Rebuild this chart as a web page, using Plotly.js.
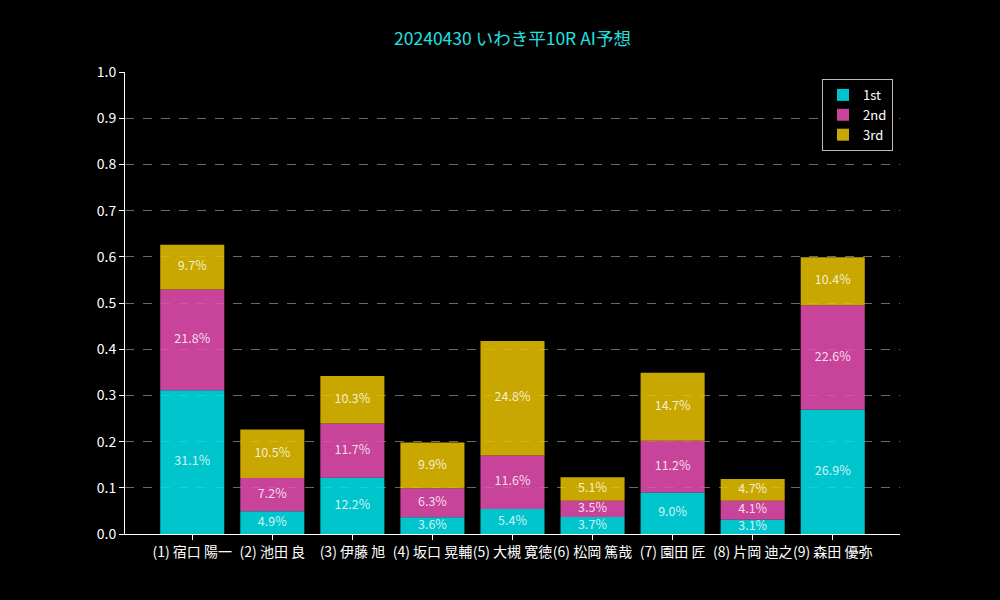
<!DOCTYPE html>
<html>
<head>
<meta charset="utf-8">
<script src="https://cdn.plot.ly/plotly-3.0.1.min.js"></script>
<style>html,body{margin:0;padding:0;background:#000;}#chart{width:1000px;height:600px;}</style>
</head>
<body>
<div id="chart"></div>
<script>
const categories = ["(1) 宿口 陽一","(2) 池田 良","(3) 伊藤 旭","(4) 坂口 晃輔","(5) 大槻 寛徳","(6) 松岡 篤哉","(7) 園田 匠","(8) 片岡 迪之","(9) 森田 優弥"];
const first  = [0.311, 0.049, 0.122, 0.036, 0.054, 0.037, 0.090, 0.031, 0.269];
const second = [0.218, 0.072, 0.117, 0.063, 0.116, 0.035, 0.112, 0.041, 0.226];
const third  = [0.097, 0.105, 0.103, 0.099, 0.248, 0.051, 0.147, 0.047, 0.104];
const seriesNames = ["1st", "2nd", "3rd"];
const titleText = "20240430 いわき平10R AI予想";
const yTicks = [0.0,0.1,0.2,0.3,0.4,0.5,0.6,0.7,0.8,0.9,1.0];

const colors = ["rgba(0,229,238,0.86)", "rgba(233,79,179,0.86)", "rgba(233,196,0,0.86)"];
const font = "'Noto Sans CJK JP', 'Noto Sans', sans-serif";
const idx = categories.map((_, i) => i);
const series = [first, second, third];

const traces = [];
const bases = idx.map(() => 0);
series.forEach((vals, s) => {
  traces.push({
    type: 'bar', x: idx, y: vals, base: bases.slice(), name: seriesNames[s],
    width: 0.8, marker: {color: colors[s], line: {width: 0}},
    hoverinfo: 'none'
  });
  traces.push({
    type: 'scatter', mode: 'text', x: idx,
    y: vals.map((v, i) => bases[i] + v / 2),
    text: vals.map(v => (v * 100).toFixed(1) + '%'),
    textfont: {color: 'rgba(255,255,255,0.82)', size: 12.5, family: font},
    showlegend: false, hoverinfo: 'none'
  });
  vals.forEach((v, i) => bases[i] += v);
});

const layout = {
  width: 1000, height: 600,
  paper_bgcolor: '#000', plot_bgcolor: '#000',
  margin: {l: 125, r: 100, t: 72, b: 66},
  barmode: 'overlay',
  font: {family: font, color: '#fff', size: 14},
  title: {text: titleText, font: {color: '#22e0e0', size: 17.5, family: font}, x: 0.5125, xanchor: 'center', y: 0.935, yanchor: 'middle'},
  xaxis: {
    range: [-0.84, 8.84], tickmode: 'array', tickvals: idx, ticktext: categories,
    tickangle: 0,
    showgrid: false, zeroline: false, showline: true, linecolor: '#fff', linewidth: 1,
    ticks: 'outside', ticklen: 5, tickcolor: '#fff', tickfont: {size: 14, color: '#fff'}
  },
  yaxis: {
    range: [0, 1.0], tickmode: 'array', tickvals: yTicks, ticktext: yTicks.map(v => v.toFixed(1)),
    showgrid: true, gridcolor: '#6a6a6a', griddash: 'dash', gridwidth: 1,
    zeroline: false, showline: true, linecolor: '#fff', linewidth: 1,
    ticks: 'outside', ticklen: 5, tickcolor: '#fff', tickfont: {size: 14, color: '#fff'}
  },
  legend: {
    x: 0.991, xanchor: 'right', y: 0.985, yanchor: 'top',
    bgcolor: '#000', bordercolor: '#bbb', borderwidth: 1,
    font: {size: 13, color: '#fff'}, traceorder: 'normal', tracegroupgap: 0
  },
  showlegend: true
};

Plotly.newPlot('chart', traces, layout, {displayModeBar: false, staticPlot: true});
</script>
</body>
</html>
